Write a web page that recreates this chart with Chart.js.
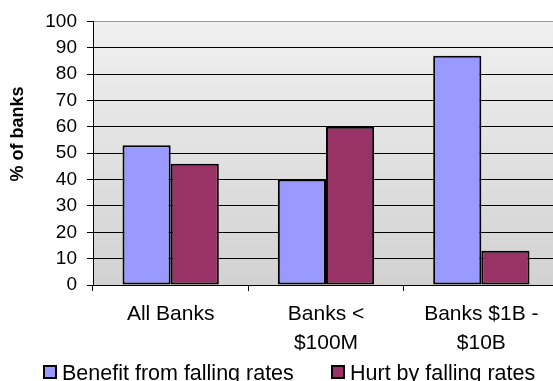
<!DOCTYPE html>
<html>
<head>
<meta charset="utf-8">
<script src="https://cdn.jsdelivr.net/npm/chart.js@4/dist/chart.umd.min.js"></script>
<style>
  html, body { margin: 0; padding: 0; background: #fff; overflow: hidden; }
  #wrap { width: 553px; height: 381px; overflow: hidden; }
</style>
</head>
<body>
<div id="wrap"><canvas id="ratesChart" width="560" height="381"></canvas></div>
<script>
const categories = [['All Banks'], ['Banks <', '$100M'], ['Banks $1B -', '$10B']];
const benefitValues = [53, 40, 87];
const hurtValues = [46, 60, 13];
const seriesNames = ['Benefit from falling rates', 'Hurt by falling rates'];
const seriesColors = ['#9999FF', '#993366'];
const yMin = 0, yMax = 100, yStep = 10;
const yTitle = '% of banks';

const FONT = "'Liberation Sans', Arial, sans-serif";

// fundo cinza em degradê da área de plotagem
const plotBackground = {
    id: 'plotBackground',
    beforeDraw(chart) {
        const { ctx, chartArea: a } = chart;
        const g = ctx.createLinearGradient(0, a.top, 0, a.bottom);
        g.addColorStop(0, '#f0f0f0');
        g.addColorStop(1, '#d2d2d2');
        ctx.save();
        ctx.fillStyle = g;
        ctx.fillRect(a.left, a.top, a.right - a.left, a.bottom - a.top);
        ctx.restore();
    }
};

// título do eixo Y, um pouco acima do centro
const yTitlePlugin = {
    id: 'yTitlePlugin',
    afterDraw(chart) {
        const ctx = chart.ctx;
        ctx.save();
        ctx.translate(18, 134);
        ctx.rotate(-Math.PI / 2);
        ctx.font = 'bold 18px ' + FONT;
        ctx.fillStyle = '#000';
        ctx.textAlign = 'center';
        ctx.textBaseline = 'middle';
        ctx.fillText(yTitle, 0, 0);
        ctx.restore();
    }
};

// legenda com caixinhas de borda preta
const boxLegend = {
    id: 'boxLegend',
    afterDraw(chart) {
        const ctx = chart.ctx;
        const xs = [43, 331];
        ctx.save();
        ctx.font = '21.5px ' + FONT;
        ctx.textBaseline = 'alphabetic';
        chart.data.datasets.forEach((ds, i) => {
            ctx.fillStyle = ds.backgroundColor;
            ctx.fillRect(xs[i], 365, 14, 14);
            ctx.strokeStyle = '#000';
            ctx.lineWidth = 2;
            ctx.strokeRect(xs[i] + 1, 366, 12, 12);
            ctx.fillStyle = '#000';
            ctx.fillText(ds.label, xs[i] + 19, 380);
        });
        ctx.restore();
    }
};

new Chart(document.getElementById('ratesChart'), {
    type: 'bar',
    data: {
        labels: categories,
        datasets: [{
            label: seriesNames[0],
            data: benefitValues,
            backgroundColor: seriesColors[0],
            borderColor: '#000',
            borderWidth: 2,
            borderSkipped: false
        }, {
            label: seriesNames[1],
            data: hurtValues,
            backgroundColor: seriesColors[1],
            borderColor: '#000',
            borderWidth: 2,
            borderSkipped: false
        }]
    },
    options: {
        responsive: false,
        animation: false,
        devicePixelRatio: 1,
        layout: { padding: { left: 0, top: 20, right: 1, bottom: 0 } },
        datasets: { bar: { categoryPercentage: 0.62, barPercentage: 1 } },
        plugins: {
            legend: { display: false },
            tooltip: { enabled: false }
        },
        scales: {
            x: {
                afterFit(scale) { scale.height = 96; },
                grid: {
                    offset: true,
                    drawOnChartArea: false,
                    color: '#000',
                    tickLength: 6
                },
                border: { color: '#000', width: 1 },
                ticks: {
                    color: '#000',
                    padding: 9,
                    maxRotation: 0,
                    font: { family: FONT, size: 21, lineHeight: 1.36 }
                }
            },
            y: {
                min: yMin,
                max: yMax,
                afterFit(scale) { scale.width = 93; },
                grid: {
                    color: ctx => ctx.tick && ctx.tick.value === yMax ? '#9a9a9a' : '#000',
                    tickColor: '#000',
                    tickLength: 6
                },
                border: { color: '#000', width: 1 },
                ticks: {
                    stepSize: yStep,
                    color: '#000',
                    padding: 10,
                    font: { family: FONT, size: 19 }
                }
            }
        }
    },
    plugins: [plotBackground, yTitlePlugin, boxLegend]
});
</script>
</body>
</html>
